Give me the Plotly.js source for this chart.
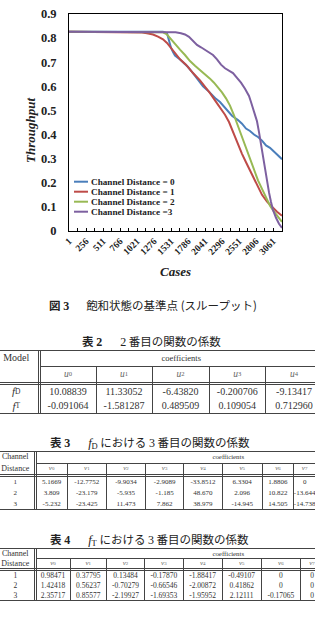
<!DOCTYPE html>
<html>
<head>
<meta charset="utf-8">
<script src="https://cdn.plot.ly/plotly-3.0.1.min.js"></script>
<style>
  html, body { margin:0; padding:0; background:#fff; }
  body { width:315px; height:624px; overflow:hidden; position:relative; }
  #chart { position:absolute; left:0; top:0; width:315px; height:290px; }
  .jp { position:absolute; white-space:nowrap; font-family:"Noto Sans CJK JP", sans-serif; font-size:11.5px; line-height:14px; color:#222; }
  .lab { font-weight:bold; }
  .lab .n { font-family:"Liberation Serif", serif; font-weight:bold; font-size:12px; }
  .num { font-family:"Liberation Serif", serif; font-size:12px; }
  .mi { font-family:"Liberation Serif", serif; font-style:italic; font-size:12.5px; }
  .sub { font-family:"Liberation Serif", serif; font-style:normal; font-size:8.5px; vertical-align:-2px; }
  .cell { position:absolute; display:flex; align-items:center; justify-content:center; white-space:nowrap; font-family:"Liberation Serif", serif; color:#333; }
  .hl { position:absolute; height:1px; background:#444; }
  .vl { position:absolute; width:1px; background:#444; }
</style>
</head>
<body>
<div id="chart"></div>
<div id="texts"></div>
<script>
// ---------- chart data ----------
const seriesNames = ['Channel Distance = 0','Channel Distance = 1','Channel Distance = 2','Channel Distance =3'];
const caseTicks = [1,256,511,766,1021,1276,1531,1786,2041,2296,2551,2806,3061];
const caseTickLabels = ['1','256','511','766','1021','1276','1531','1786','2041','2296','2551','2806','3061'];
const throughputTicks = [0,0.1,0.2,0.3,0.4,0.5,0.6,0.7,0.8,0.9];
const throughputTickLabels = ['0','0.1','0.2','0.3','0.4','0.5','0.6','0.7','0.8','0.9'];

const d0Cases = [1,256,511,766,1021,1276,1411,1471,1501,1531,1561,1591,1651,1711,1786,1861,1936,2011,2086,2146,2206,2266,2326,2386,2446,2536,2596,2656,2716,2776,2836,2896,2956,3016,3076,3121,3166,3196];
const d0Throughput = [0.826,0.826,0.826,0.826,0.826,0.826,0.826,0.82,0.79,0.76,0.742,0.728,0.715,0.70,0.68,0.655,0.628,0.60,0.582,0.563,0.548,0.535,0.515,0.495,0.478,0.46,0.445,0.425,0.415,0.40,0.39,0.375,0.355,0.345,0.33,0.315,0.305,0.298];

const d1Cases = [1,256,511,766,916,1021,1096,1171,1261,1336,1411,1471,1516,1591,1666,1756,1861,1966,2041,2116,2191,2266,2341,2401,2461,2536,2596,2656,2716,2776,2836,2896,2971,3046,3121,3196];
const d1Throughput = [0.826,0.826,0.826,0.826,0.826,0.825,0.823,0.82,0.815,0.806,0.795,0.78,0.765,0.74,0.712,0.69,0.655,0.625,0.60,0.572,0.542,0.512,0.482,0.452,0.41,0.36,0.32,0.285,0.25,0.215,0.18,0.15,0.122,0.10,0.08,0.063];

const d2Cases = [1,256,511,766,1021,1276,1366,1411,1471,1531,1591,1666,1741,1816,1891,1966,2041,2116,2176,2236,2296,2356,2416,2476,2536,2596,2656,2716,2776,2836,2896,2956,3016,3076,3136,3196];
const d2Throughput = [0.826,0.826,0.826,0.826,0.826,0.826,0.826,0.824,0.815,0.795,0.775,0.752,0.73,0.705,0.685,0.668,0.65,0.632,0.615,0.595,0.575,0.55,0.52,0.48,0.435,0.39,0.345,0.30,0.25,0.21,0.175,0.14,0.105,0.08,0.058,0.038];

const d3Cases = [1,256,511,766,1021,1276,1531,1600,1680,1741,1801,1861,1921,1981,2041,2101,2161,2221,2281,2341,2401,2461,2521,2581,2641,2701,2731,2761,2791,2821,2851,2881,2911,2941,2971,3001,3031,3061,3106,3151,3196];
const d3Throughput = [0.826,0.826,0.826,0.826,0.826,0.826,0.826,0.824,0.82,0.815,0.805,0.787,0.772,0.762,0.752,0.742,0.73,0.712,0.69,0.675,0.665,0.655,0.635,0.615,0.59,0.56,0.535,0.505,0.48,0.455,0.41,0.36,0.30,0.25,0.20,0.16,0.12,0.087,0.055,0.03,0.013];

// ---------- table data ----------
const table2Models = ['D','T'];
const table2Coeffs = ['u0','u1','u2','u3','u4'];
const table2fD = ['10.08839','11.33052','-6.43820','-0.200706','-9.13417'];
const table2fT = ['-0.091064','-1.581287','0.489509','0.109054','0.712960'];

const table3Coeffs = ['v0','v1','v2','v3','v4','v5','v6','v7'];
const channelDistances = ['1','2','3'];
const table3Row1 = ['5.1669','-12.7752','-9.9034','-2.9089','-33.8512','6.3304','1.8806','0'];
const table3Row2 = ['3.809','-23.179','-5.935','-1.185','48.670','2.096','10.822','-13.644'];
const table3Row3 = ['-5.232','-23.425','11.473','7.862','38.979','-14.945','14.505','-14.738'];

const table4Row1 = ['0.98471','0.37795','0.13484','-0.17870','-1.88417','-0.49107','0','0'];
const table4Row2 = ['1.42418','0.56237','-0.70279','-0.66546','-2.00872','0.41862','0','0'];
const table4Row3 = ['2.35717','0.85577','-2.19927','-1.69353','-1.95952','2.12111','-0.17065','0'];

// ---------- chart ----------
const colors = ['#4A7EBB','#BE4B48','#98B954','#7D60A0'];
const xs = [d0Cases, d1Cases, d2Cases, d3Cases];
const ys = [d0Throughput, d1Throughput, d2Throughput, d3Throughput];
const traces = seriesNames.map((n, i) => ({
  type:'scatter', mode:'lines', name:n, x:xs[i], y:ys[i],
  line:{color:colors[i], width:2}, showlegend:false, hoverinfo:'skip'
}));

const L = 69, R = 282, T = 14, B = 231;
const pw = R - L, ph = B - T;
const px = v => (v - L) / pw;
const py = v => (B - v) / ph;
const serif = '"Liberation Serif", "Times New Roman", serif';

const annotations = [];
const shapes = [];
const legendY = [181.7, 191.7, 201.7, 211.7];
seriesNames.forEach((n, i) => {
  shapes.push({type:'line', xref:'paper', yref:'paper', x0:px(74), x1:px(88), y0:py(legendY[i]), y1:py(legendY[i]),
    line:{color:colors[i], width:2}});
  annotations.push({xref:'paper', yref:'paper', x:px(88.5), y:py(legendY[i]), xanchor:'left', yanchor:'middle',
    text:'<b>' + n + '</b>', showarrow:false, font:{family:serif, size:9.2, color:'#222'}});
});
annotations.push({xref:'paper', yref:'paper', x:px(30), y:py(131), textangle:-90, xanchor:'center', yanchor:'middle',
  text:'<b><i>Throughput</i></b>', showarrow:false, font:{family:serif, size:13, color:'#222'}});
annotations.push({xref:'paper', yref:'paper', x:px(175.5), y:py(271.5), xanchor:'center', yanchor:'middle',
  text:'<b><i>Cases</i></b>', showarrow:false, font:{family:serif, size:13, color:'#222'}});

const layout = {
  width:315, height:290,
  margin:{l:L, r:315-R, t:T, b:290-B, pad:0},
  paper_bgcolor:'#fff', plot_bgcolor:'#fff',
  showlegend:false,
  xaxis:{
    type:'linear', range:[1, 3196], tickmode:'array', tickvals:caseTicks, ticktext:caseTickLabels,
    tickangle:-45, ticks:'inside', ticklen:3, tickwidth:1, tickcolor:'#000',
    minor:{ticks:'inside', ticklen:3, tickwidth:1, tickcolor:'#000', tickvals:caseTicks.map(v => v + 127.5)},
    showline:true, linecolor:'#000', linewidth:1, mirror:true, showgrid:false, zeroline:false,
    tickfont:{family:serif, size:9.5, weight:'bold', color:'#222'}
  },
  yaxis:{
    range:[0, 0.9], tickmode:'array', tickvals:throughputTicks, ticktext:throughputTickLabels,
    ticks:'', ticklabelstandoff:9,
    showline:true, linecolor:'#000', linewidth:1, mirror:true, showgrid:false, zeroline:false,
    tickfont:{family:serif, size:12.5, weight:'bold', color:'#222'}
  },
  annotations, shapes
};
Plotly.newPlot('chart', traces, layout, {displayModeBar:false, staticPlot:true});

// ---------- captions & tables ----------
const root = document.getElementById('texts');
function addHTML(html) { root.insertAdjacentHTML('beforeend', html); }

addHTML('<div class="jp" style="left:49px;top:298px"><span class="lab">図 <span class="n">3</span></span><span style="margin-left:17px">飽和状態の基準点 (スループット)</span></div>');
addHTML('<div class="jp" style="left:82px;top:334px"><span class="lab">表 <span class="n">2</span></span><span style="margin-left:18px"><span class="num">2</span> 番目の関数の係数</span></div>');
addHTML('<div class="jp" style="left:50px;top:435px"><span class="lab">表 <span class="n">3</span></span><span style="margin-left:18px"><span class="mi">f</span><span class="sub">D</span> における <span class="num">3</span> 番目の関数の係数</span></div>');
addHTML('<div class="jp" style="left:50px;top:532px"><span class="lab">表 <span class="n">4</span></span><span style="margin-left:18px"><span class="mi">f</span><span class="sub">T</span> における <span class="num">3</span> 番目の関数の係数</span></div>');

function coeffLabel(c, size, color) {
  return '<span style="font-style:italic;font-size:' + size + 'px;color:' + color + '">' + c[0] +
    '</span><span style="font-size:' + (size * 0.7) + 'px;color:' + color + ';vertical-align:-1.5px">' + c.slice(1) + '</span>';
}
function cell(x0, x1, y0, y1, html, size) {
  addHTML('<div class="cell" style="left:' + x0 + 'px;width:' + (x1 - x0) + 'px;top:' + y0 + 'px;height:' + (y1 - y0) +
    'px;font-size:' + size + 'px">' + html + '</div>');
}
function hline(x0, x1, y) { addHTML('<div class="hl" style="left:' + x0 + 'px;width:' + (x1 - x0) + 'px;top:' + y + 'px"></div>'); }
function vline(x, y0, y1) { addHTML('<div class="vl" style="left:' + x + 'px;top:' + y0 + 'px;height:' + (y1 - y0) + 'px"></div>'); }

function drawTable(cfg) {
  const cx = cfg.colX, ry = cfg.rowY, n = cx.length - 1;
  const right = 320;
  hline(0, right, ry[0]);
  hline(cx[1] + 2, right, ry[1]);
  hline(0, right, ry[2]);
  hline(0, right, ry[2] + 2);
  hline(0, right, ry[ry.length - 1]);
  vline(cx[1], ry[0], ry[ry.length - 1]);
  vline(cx[1] + 2, ry[0], ry[ry.length - 1]);
  for (let j = 2; j < n; j++) vline(cx[j], ry[1], ry[ry.length - 1]);
  cell(cx[0], cx[1], ry[0], ry[1], cfg.h1Left, cfg.hSize);
  cell(cx[1] + 3, cfg.coefRight, ry[0], ry[1], 'coefficients', cfg.cSize);
  cell(cx[0], cx[1], ry[1], ry[2], cfg.h2Left, cfg.hSize);
  cfg.coeffs.forEach((c, j) => cell(cx[j + 1] + (j === 0 ? 3 : 1), cx[j + 2], ry[1], ry[2], coeffLabel(c, cfg.uSize, '#666'), cfg.uSize));
  cfg.rows.forEach((row, i) => {
    const y0 = (i === 0 ? ry[2] + 3 : ry[i + 2]), y1 = ry[i + 3];
    cell(cx[0], cx[1], y0, y1, cfg.rowLabels[i], cfg.bSize);
    row.forEach((v, j) => cell(cx[j + 1] + (j === 0 ? 3 : 1), cx[j + 2], y0, y1, v, cfg.bSize));
  });
}

drawTable({
  colX:[-5, 37.5, 95.5, 151.5, 208.5, 265, 322],
  rowY:[350, 365.5, 381.5, 398, 413.3],
  coefRight:322,
  h1Left:'Model', h2Left:'',
  coeffs:table2Coeffs,
  rowLabels:table2Models.map(m => '<span style="font-style:italic;font-size:11px">f</span><span style="font-size:7.5px;vertical-align:-2px">' + m + '</span>'),
  rows:[table2fD, table2fT],
  hSize:10, cSize:8.5, uSize:9.5, bSize:10
});

drawTable({
  colX:[-3, 33.5, 66.7, 106, 145, 183.3, 221.7, 261.7, 293.3, 315],
  rowY:[450.7, 462.7, 474, 487, 498, 509],
  coefRight:420,
  h1Left:'Channel', h2Left:'Distance',
  coeffs:table3Coeffs,
  rowLabels:channelDistances,
  rows:[table3Row1, table3Row2, table3Row3],
  hSize:8, cSize:6.8, uSize:7, bSize:7
});

drawTable({
  colX:[-3, 33.5, 69.5, 106, 144, 182.7, 221.7, 260.7, 300, 323],
  rowY:[548.3, 558, 568.3, 580, 590, 600],
  coefRight:420,
  h1Left:'Channel', h2Left:'Distance',
  coeffs:table3Coeffs,
  rowLabels:channelDistances,
  rows:[table4Row1, table4Row2, table4Row3],
  hSize:8, cSize:6.8, uSize:7, bSize:7.5
});
</script>
</body>
</html>
